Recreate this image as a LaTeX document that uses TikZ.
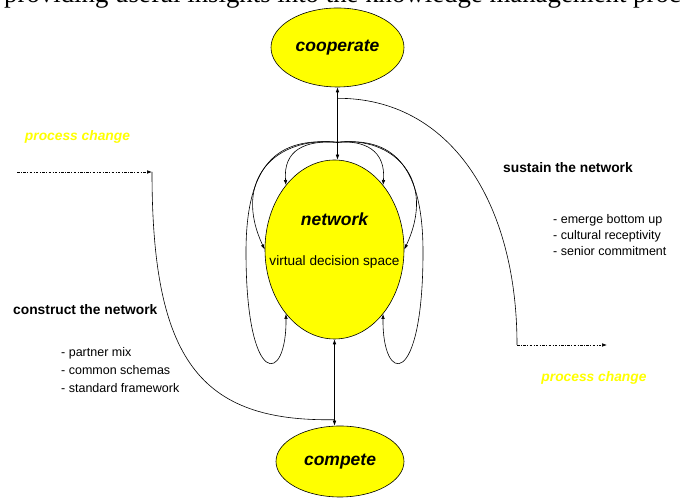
\documentclass[tikz,border=0pt]{standalone}
\usepackage{fontspec}
\setmainfont{Liberation Sans}
\newfontfamily\bodyserif{Liberation Serif}
\usetikzlibrary{shapes.geometric,arrows.meta,calc}
\definecolor{fillyellow}{HTML}{FFFF00}
\begin{document}
\begin{tikzpicture}[x=1pt,y=1pt,
  stage/.style={ellipse, draw=black, line width=0.6pt, fill=fillyellow, inner sep=0pt},
  stagetext/.style={font=\fontsize{17.5}{20}\selectfont\bfseries\itshape},
  tip/.style={line width=0.6pt, -{Latex[length=5pt,width=3.6pt]}},
  plain/.style={line width=0.6pt},
  both/.style={line width=0.6pt, {Latex[length=5pt,width=3.6pt]}-{Latex[length=5pt,width=3.6pt]}},
  dashdot/.style={line width=0.6pt, dash pattern=on 2.5pt off 1.5pt on 0.8pt off 1.5pt, -{Latex[length=5pt,width=3.6pt]}},
  phase/.style={font=\fontsize{13.8}{16}\selectfont\bfseries, anchor=base west, inner sep=0pt},
  item/.style={font=\fontsize{12.5}{15}\selectfont, anchor=base west, inner sep=0pt},
  change/.style={font=\fontsize{13.8}{16}\selectfont\bfseries\itshape, text=fillyellow, inner sep=0pt},
]
\useasboundingbox (0,0) rectangle (680,502);
\clip (0,0) rectangle (680,502);

% running text of the page above the figure
\node[font=\bodyserif\fontsize{26.8}{30}\selectfont, anchor=base west, inner sep=0pt] (doctext)
  at (4,499.5) {providing useful insights into the knowledge management proc};

% the three stages
\node[stage, stagetext, minimum width=133, minimum height=79] (coop) at (337.5,454.5) {cooperate};
\node[stage, minimum width=139, minimum height=179] (net) at (334.5,252.5) {};
\node[stagetext] (netname) at ($(net.center)+(0,30)$) {network};
\node[font=\fontsize{13.6}{16}\selectfont, inner sep=0pt] (netspace) at ($(net.center)+(0,-12)$) {virtual decision space};
\node[stage, stagetext, minimum width=128, minimum height=71] (comp) at (340,40.5) {compete};

% main axis
\draw[both] (coop.south) -- (coop.south |- net.north);
\draw[both] (net.south) -- (net.south |- comp.north);

\coordinate (T) at ($(coop.south)+(0,-55)$);
\coordinate (rjoin) at ($(coop.south)+(0,-11)$);
\coordinate (ljoin) at ($(net.south |- comp.north)+(0,6)$);
\coordinate (lstart) at (17,330);
\coordinate (lbend) at (152,330);
\coordinate (rbend) at (517,157);
\coordinate (rend) at (607,157);

% feedback loops into the network
\draw[tip] (T) .. controls (305,362) and (283,352) .. (net.127);
\draw[tip] (T) .. controls (275,366) and (232,322) .. (net.180);
\draw[tip] (T) .. controls (285,364) and (246,348) .. (246,250)
               .. controls (246,112) and (287,117) .. (net.233);
\draw[tip] (T) .. controls (364,362) and (386,352) .. (net.53);
\draw[tip] (T) .. controls (394,366) and (437,322) .. (net.0);
\draw[tip] (T) .. controls (384,364) and (423,348) .. (423,250)
               .. controls (423,112) and (382,117) .. (net.307);

% process change paths
\draw[dashdot] (lstart) -- (lbend);
\draw[plain] (lbend) .. controls (152,142) and (200,80) .. (ljoin);
\draw[plain] (rjoin) .. controls (450,404) and (517,300) .. (rbend);
\draw[dashdot] (rbend) -- (rend);

% labels
\node[change] (pcleft) at (77.5,365) {process change};
\node[change] (pcright) at (594,124) {process change};

\node[phase] (sustain) at (503,329) {sustain the network};
\node[item] (s1) at (553,278) {- emerge bottom up};
\node[item] (s2) at (553,262) {- cultural receptivity};
\node[item] (s3) at (553,246) {- senior commitment};

\node[phase] (construct) at (13,187) {construct the network};
\node[item] (c1) at (61,145) {- partner mix};
\node[item] (c2) at (61,127) {- common schemas};
\node[item] (c3) at (61,109) {- standard framework};
\end{tikzpicture}
\end{document}
